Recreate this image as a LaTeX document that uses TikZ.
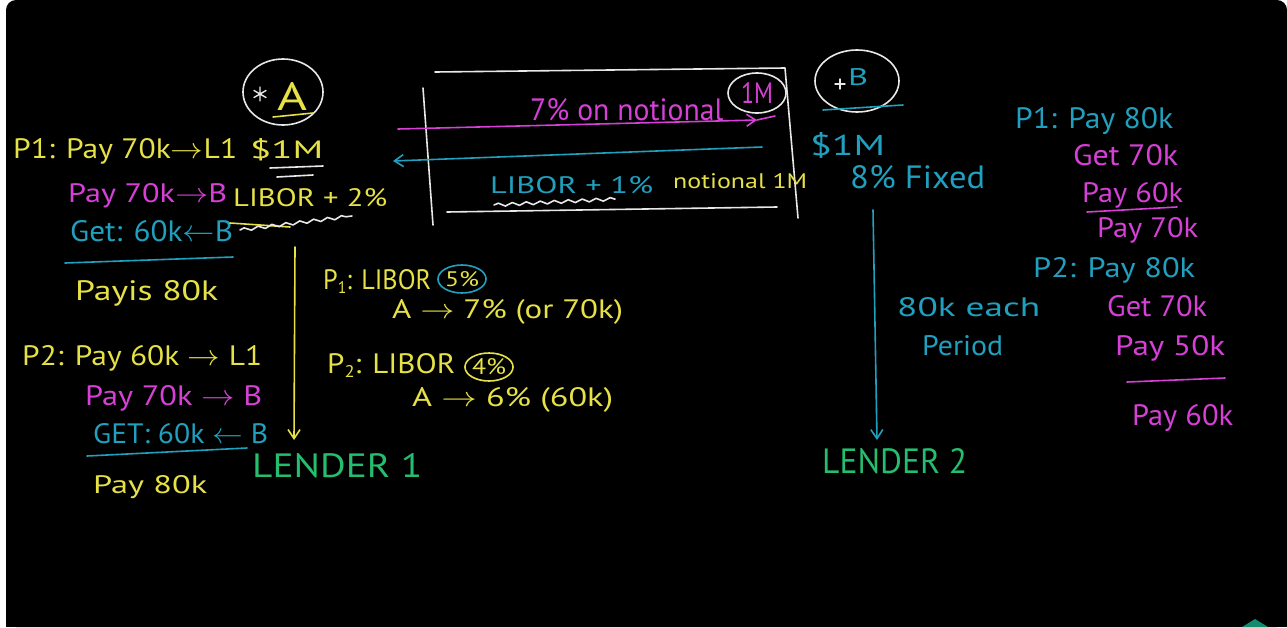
\documentclass[tikz,border=0pt]{standalone}
\usepackage{fontspec}
\setmainfont{PT Sans}
\usetikzlibrary{shapes.geometric,arrows.meta,decorations.pathmorphing}
\definecolor{hy}{RGB}{230,225,70}
\definecolor{hm}{RGB}{214,64,214}
\definecolor{ht}{RGB}{32,160,190}
\definecolor{hg}{RGB}{36,190,110}
\definecolor{hw}{RGB}{232,232,232}
\definecolor{tri}{RGB}{18,140,110}
\newcommand{\fitbox}[3]{\resizebox{#1pt}{#2pt}{#3}}
\newcommand{\lowsub}[1]{\raisebox{-3pt}{\fontsize{12}{12}\selectfont #1}}
\tikzset{
  txt/.style={anchor=base west,inner sep=0pt,font=\fontsize{20}{24}\selectfont},
  ty/.style={txt,text=hy}, tm/.style={txt,text=hm}, tt/.style={txt,text=ht}, tg/.style={txt,text=hg},
  pen/.style={line width=1.6pt,line cap=round,line join=round},
  ring/.style={draw,ellipse,inner sep=0pt,pen,font=\fontsize{20}{24}\selectfont},
  wav/.style={pen,decorate,decoration={snake,amplitude=1.6pt,segment length=14pt}},
  barb/.style={pen,-{Straight Barb[length=9pt,width=12pt,line width=1.6pt]}}
}
\begin{document}
\begin{tikzpicture}[x=1pt,y=-1pt]
\useasboundingbox (0,0) rectangle (1287,627);
\fill[white] (0,0) rectangle (1287,627);
\fill[black,rounded corners=10pt] (6,0) rectangle (1287,627);
\fill[black] (6,590) rectangle (1287,627);
\fill[tri] (1242,627) -- (1255,619) -- (1268,627) -- cycle;

% ---------- party A ----------
\node[ring,hw,minimum width=80pt,minimum height=66pt] (cA) at (283,92) {};
\coordinate (st) at (260,94);
\draw[pen,hw,line width=1.4pt] ([yshift=-7pt]st) -- ([yshift=7pt]st)
  ([shift={(-6pt,-3.5pt)}]st) -- ([shift={(6pt,3.5pt)}]st)
  ([shift={(-6pt,3.5pt)}]st) -- ([shift={(6pt,-3.5pt)}]st);
\node[ty] (lA) at (277,110) {\fitbox{30}{28}{A}};
\coordinate (uA1) at (273,117); \coordinate (uA2) at (313,113);
\draw[pen,hy] (uA1) -- (uA2);

\node[ty] (a1) at (13,158) {\fitbox{224}{20}{P1: Pay 70k$\to$L1}};
\node[ty] (a2) at (250,158) {\fitbox{73}{20}{\$1M}};
\coordinate (u1a) at (270,168); \coordinate (u1b) at (323,166);
\coordinate (u2a) at (277,177); \coordinate (u2b) at (313,175);
\draw[pen,hw] (u1a) -- (u1b);
\draw[pen,hw] (u2a) -- (u2b);
\node[tm] (a3) at (68,202) {\fitbox{159}{19}{Pay 70k$\to$B}};
\node[ty] (a4) at (233,206) {\fitbox{154}{18}{LIBOR + 2\%}};
\node[tt] (a5) at (70,241) {\fitbox{163}{21}{Get: 60k$\leftarrow$B}};
\coordinate (yl1) at (230,223); \coordinate (yl2) at (290,227);
\draw[pen,hy] (yl1) -- (yl2);
\coordinate (wv1) at (240,230); \coordinate (wv2) at (352,216);
\draw[wav,hw] (wv1) -- (wv2);
\coordinate (tl1) at (65,263); \coordinate (tl2) at (233,257);
\draw[pen,ht] (tl1) -- (tl2);
\node[ty] (a6) at (75,300) {\fitbox{143}{20}{Payis 80k}};
\node[ty] (a7) at (22,365) {\fitbox{240}{20}{P2: Pay 60k $\to$ L1}};
\node[tm] (a8) at (85,405) {\fitbox{177}{20}{Pay 70k $\to$ B}};
\node[tt] (a9) at (93,443) {\fitbox{175}{20}{GET: 60k $\leftarrow$ B}};
\coordinate (tl3) at (87,456); \coordinate (tl4) at (247,448);
\draw[pen,ht] (tl3) -- (tl4);
\node[ty] (a10) at (93,493) {\fitbox{114}{18}{Pay 80k}};
\coordinate (ya1) at (295,247); \coordinate (ya2) at (294,440);
\draw[barb,hy] (ya1) -- (ya2);
\node[tg] (len1) at (252,477) {\fitbox{170}{24}{LENDER 1}};

% ---------- periods ----------
\node[ty] (c1) at (323,289) {\fitbox{108}{20}{P\lowsub{1}: LIBOR}};
\node[ring,ht,text=hy,minimum width=44pt,minimum height=28pt] (c2) at (462,279) {\fitbox{34}{15}{5\%}};
\node[ty] (c3) at (392,318) {\fitbox{231}{19}{A $\to$ 7\% (or 70k)}};
\node[ty] (c4) at (327,373) {\fitbox{128}{20}{P\lowsub{2}: LIBOR}};
\node[ring,hy,text=hy,minimum width=48pt,minimum height=28pt] (c5) at (489,367) {\fitbox{34}{16}{4\%}};
\node[ty] (c6) at (412,406) {\fitbox{201}{19}{A $\to$ 6\% (60k)}};

% ---------- swap box ----------
\coordinate (bx1) at (435,72); \coordinate (bx2) at (785,68);
\coordinate (bx3) at (798,218); \coordinate (bx4) at (423,88);
\coordinate (bx5) at (433,225); \coordinate (bx6) at (447,212);
\coordinate (bx7) at (777,207);
\draw[pen,hw] (bx1) -- (bx2) -- (bx3);
\draw[pen,hw] (bx4) -- (bx5);
\draw[pen,hw] (bx6) -- (bx7);
\node[tm] (m1) at (530,120) {\fitbox{193}{22}{7\% on notional}};
\node[ring,hw,text=hm,minimum width=58pt,minimum height=40pt] (m2) at (757,93) {\fitbox{32}{21}{1M}};
\coordinate (ma1) at (398,129); \coordinate (ma2) at (757,120); \coordinate (ma3) at (775,116);
\draw[barb,hm] (ma1) -- (ma2);
\draw[pen,hm] (ma2) -- (ma3);
\coordinate (ta1) at (762,147); \coordinate (ta2) at (393,161);
\draw[barb,ht] (ta1) -- (ta2);
\node[tt] (m3) at (490,193) {\fitbox{163}{17}{LIBOR + 1\%}};
\node[ty] (m4) at (673,188) {\fitbox{134}{15}{notional 1M}};
\coordinate (wv3) at (494,205); \coordinate (wv4) at (615,199);
\draw[wav,hw] (wv3) -- (wv4);

% ---------- party B ----------
\node[ring,hw,minimum width=84pt,minimum height=62pt] (cB) at (857,81) {};
\coordinate (pl) at (840,84);
\draw[pen,hw,line width=1.4pt] ([xshift=-5pt]pl) -- ([xshift=5pt]pl) ([yshift=-5pt]pl) -- ([yshift=5pt]pl);
\node[tt] (lB) at (848,85) {\fitbox{20}{17}{B}};
\coordinate (uB1) at (823,110); \coordinate (uB2) at (903,105);
\draw[pen,ht] (uB1) -- (uB2);
\node[tt] (b1) at (810,155) {\fitbox{75}{23}{\$1M}};
\node[tt] (b2) at (850,188) {\fitbox{135}{23}{8\% Fixed}};
\coordinate (tb1) at (873,210); \coordinate (tb2) at (877,440);
\draw[barb,ht] (tb1) -- (tb2);
\node[tt] (b3) at (897,316) {\fitbox{143}{19}{80k each}};
\node[tt] (b4) at (922,355) {\fitbox{81}{20}{Period}};
\node[tg] (len2) at (822,473) {\fitbox{145}{25}{LENDER 2}};

% ---------- right column ----------
\node[tt] (r1) at (1015,128) {\fitbox{158}{21}{P1: Pay 80k}};
\node[tm] (r2) at (1073,165) {\fitbox{105}{21}{Get 70k}};
\node[tm] (r3) at (1082,202) {\fitbox{101}{20}{Pay 60k}};
\coordinate (ml1) at (1087,212); \coordinate (ml2) at (1177,207);
\draw[pen,hm] (ml1) -- (ml2);
\node[tm] (r4) at (1097,237) {\fitbox{101}{20}{Pay 70k}};
\node[tt] (r5) at (1033,277) {\fitbox{162}{20}{P2: Pay 80k}};
\node[tm] (r6) at (1107,316) {\fitbox{100}{21}{Get 70k}};
\node[tm] (r7) at (1115,355) {\fitbox{110}{20}{Pay 50k}};
\coordinate (ml3) at (1127,382); \coordinate (ml4) at (1225,378);
\draw[pen,hm] (ml3) -- (ml4);
\node[tm] (r8) at (1132,425) {\fitbox{101}{21}{Pay 60k}};
\end{tikzpicture}
\end{document}
